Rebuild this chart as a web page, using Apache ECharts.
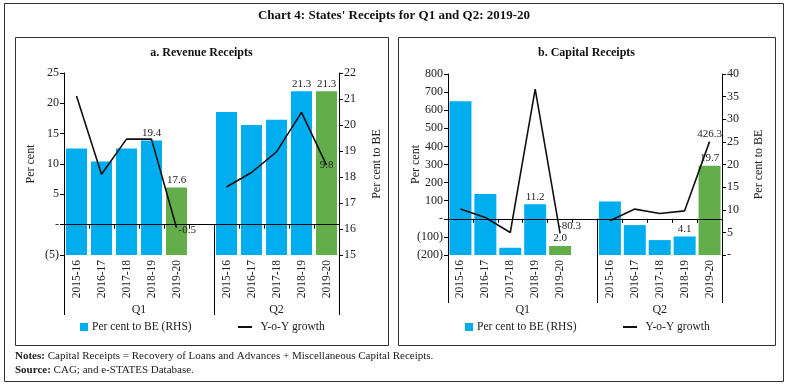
<!DOCTYPE html>
<html><head><meta charset="utf-8">
<script src="https://cdn.jsdelivr.net/npm/echarts@6/dist/echarts.min.js"></script>
<style>html,body{margin:0;padding:0;background:#fff}#c{width:790px;height:388px}</style>
</head><body><div id="c"></div>
<script>
// ---- data ----
const categories = ['2015-16','2016-17','2017-18','2018-19','2019-20','','2015-16','2016-17','2017-18','2018-19','2019-20'];
const groupLabels = ['Q1','Q2'];
const revBE     = [19.1, 18.6, 19.1, 19.4, 17.6, null, 20.5, 20.0, 20.2, 21.3, 21.3];
const revGrowth = [21.2, 8.3, 14.1, 14.1, -0.5, null, 6.2, 8.6, 12.0, 18.5, 9.8];
const capBE     = [34.0, 13.5, 1.6, 11.2, 2.0, null, 11.8, 6.6, 3.3, 4.1, 19.7];
const capGrowth = [53.6, 7, -75.7, 716.6, -80.3, null, -11, 53.6, 29, 44, 426.3];
const barLabelIdx = [3, 4, 9, 10];
const lineLabelIdx = [4, 10];
const currentIdx = [4, 10];

const FONT = 'Liberation Serif';
const BLUE = '#00AEEF';
const GREEN = '#63AE4A';
const fmt = v => v === 0 ? '-' : (v < 0 ? '(' + (-v) + ')' : String(v));

const G = [
  {left: 64, top: 73, width: 275, height: 182, lineEnd: 315, box: [15, 37, 373, 308], title: 'a. Revenue Receipts',
   lMin: -5, lMax: 25, lInt: 5, rMin: 15, rMax: 22, rInt: 1, be: revBE, gr: revGrowth, barW: 21,
   lGap: 27, rGap: 32,
   lineLabelPos: [{position: 'right', distance: 2, offset: [0, 2]}, {position: 'inside', offset: [0, 0]}],
   legendX: [80, 238]},
  {left: 448, top: 74, width: 274, height: 181, lineEnd: 303, box: [398, 37, 377, 308], title: 'b. Capital Receipts',
   lMin: -200, lMax: 800, lInt: 100, rMin: 0, rMax: 40, rInt: 5, be: capBE, gr: capGrowth, barW: 22,
   lGap: 26, rGap: 31,
   lineLabelPos: [{position: 'right', distance: 0, offset: [-2, -7]}, {position: 'top', distance: 2}],
   legendX: [465, 623]}
];

const option = {
  animation: false,
  backgroundColor: '#fff',
  textStyle: {fontFamily: FONT},
  grid: [], xAxis: [], yAxis: [], series: [], legend: [], graphic: []
};

G.forEach((g, k) => {
  option.grid.push({left: g.left, top: g.top, width: g.width, height: g.height, containLabel: false});
  // zero-line axis
  option.xAxis.push({type: 'category', gridIndex: k, data: categories, boundaryGap: true,
    axisLine: {show: true, onZero: true, onZeroAxisIndex: 2 * k, lineStyle: {color: '#000', width: 1}},
    axisTick: {show: true, length: 4, lineStyle: {color: '#000'}, interval: 0},
    axisLabel: {show: false}, splitLine: {show: false}, z: 10});
  // label axis at bottom
  option.xAxis.push({type: 'category', gridIndex: k, data: categories, position: 'bottom', boundaryGap: true,
    axisLine: {show: false, onZero: false}, axisTick: {show: false},
    axisLabel: {show: true, rotate: 90, interval: 0, margin: 5, fontSize: 11.5, fontFamily: FONT, color: '#222'},
    splitLine: {show: false}});
  option.yAxis.push({type: 'value', gridIndex: k, position: 'left', min: g.lMin, max: g.lMax, interval: g.lInt,
    name: 'Per cent', nameLocation: 'middle', nameGap: g.lGap, nameMoveOverlap: false,
    nameTextStyle: {fontSize: 12, fontFamily: FONT, color: '#222'},
    axisLine: {show: true, lineStyle: {color: '#000'}}, axisTick: {show: true, length: 4, lineStyle: {color: '#000'}},
    axisLabel: {formatter: fmt, fontSize: 12, fontFamily: FONT, color: '#222', margin: 5}, splitLine: {show: false}});
  option.yAxis.push({type: 'value', gridIndex: k, position: 'right', min: g.rMin, max: g.rMax, interval: g.rInt,
    name: 'Per cent to BE', nameLocation: 'middle', nameGap: g.rGap, nameRotate: 90, nameMoveOverlap: false,
    nameTextStyle: {fontSize: 12, fontFamily: FONT, color: '#222'},
    axisLine: {show: true, lineStyle: {color: '#000'}}, axisTick: {show: true, length: 4, lineStyle: {color: '#000'}},
    axisLabel: {formatter: fmt, fontSize: 12, fontFamily: FONT, color: '#222', margin: 5}, splitLine: {show: false}});

  const barName = 'Per cent to BE (RHS)' + (k ? ' ' : '');
  const lineName = 'Y-o-Y growth' + (k ? ' ' : '');
  option.series.push({
    name: barName, type: 'bar', xAxisIndex: 2 * k, yAxisIndex: 2 * k + 1, barWidth: g.barW, clip: true,
    itemStyle: {color: BLUE},
    label: {show: false, position: 'top', distance: 2, fontSize: 11, fontFamily: FONT, color: '#222',
      formatter: p => p.value.toFixed(1)},
    data: g.be.map((v, i) => ({value: v,
      itemStyle: currentIdx.includes(i) ? {color: GREEN} : undefined,
      label: barLabelIdx.includes(i) ? {show: true} : undefined}))
  });
  option.series.push({
    name: lineName, type: 'line', xAxisIndex: 2 * k, yAxisIndex: 2 * k, z: 5,
    symbol: 'circle', symbolSize: 0, showSymbol: true, connectNulls: false,
    lineStyle: {color: '#111', width: 1.6}, itemStyle: {color: '#111'},
    label: {show: false, fontSize: 11, fontFamily: FONT, color: '#222', formatter: p => p.value.toFixed(1)},
    data: g.gr.map((v, i) => {
      const j = lineLabelIdx.indexOf(i);
      return {value: v, label: j >= 0 ? Object.assign({show: true}, g.lineLabelPos[j]) : undefined};
    })
  });
  option.legend.push({left: g.legendX[0], top: 321, padding: 0, data: [{name: barName, icon: 'rect'}],
    itemWidth: 8, itemHeight: 8, itemGap: 4, textStyle: {fontSize: 11.5, fontFamily: FONT, color: '#222', padding: [0, 0, 0, -1]}, selectedMode: false});
  option.legend.push({left: g.legendX[1], top: 321, padding: 0, data: [{name: lineName, icon: 'path://M0,0H14V2H0Z'}],
    itemWidth: 15, itemHeight: 2, itemGap: 4, textStyle: {fontSize: 11.5, fontFamily: FONT, color: '#222', padding: [0, 0, 0, 3]}, selectedMode: false});

  // panel box and title
  option.graphic.push({type: 'rect', shape: {x: g.box[0] + 0.5, y: g.box[1] + 0.5, width: g.box[2], height: g.box[3]},
    style: {fill: null, stroke: '#333', lineWidth: 1}, silent: true});
  option.graphic.push({type: 'text', x: g.box[0] + g.box[2] / 2, y: 53,
    style: {text: g.title, font: 'bold 12px "' + FONT + '"', fill: '#111', align: 'center', verticalAlign: 'middle'}});
  // multi-level category lines
  const bottom = g.top + g.height;
  const sepX = g.left + g.width * 6 / 11;
  const zeroY = g.top + g.height * (g.lMax - 0) / (g.lMax - g.lMin);
  [[g.left, bottom], [g.left + g.width, bottom], [sepX, zeroY]].forEach(([x, y0]) => {
    option.graphic.push({type: 'line', shape: {x1: Math.round(x) + 0.5, y1: y0, x2: Math.round(x) + 0.5, y2: g.lineEnd},
      style: {stroke: '#000', lineWidth: 1}, silent: true});
  });
  option.graphic.push({type: 'text', x: (g.left + sepX) / 2, y: 310,
    style: {text: groupLabels[0], font: '12px "' + FONT + '"', fill: '#222', align: 'center', verticalAlign: 'middle'}});
  option.graphic.push({type: 'text', x: (sepX + g.left + g.width) / 2, y: 310,
    style: {text: groupLabels[1], font: '12px "' + FONT + '"', fill: '#222', align: 'center', verticalAlign: 'middle'}});
});

// outer frame, main title, notes
option.graphic.push({type: 'rect', shape: {x: 4.5, y: 3.5, width: 779, height: 378},
  style: {fill: null, stroke: '#333', lineWidth: 1}, silent: true});
option.graphic.push({type: 'text', x: 394, y: 16,
  style: {text: "Chart 4: States' Receipts for Q1 and Q2: 2019-20", font: 'bold 13px "' + FONT + '"', fill: '#111', align: 'center', verticalAlign: 'middle'}});
option.graphic.push({type: 'text', x: 15, y: 356,
  style: {text: '{b|Notes:} Capital Receipts = Recovery of Loans and Advances + Miscellaneous Capital Receipts.',
    font: '11px "' + FONT + '"', fill: '#222', verticalAlign: 'middle',
    rich: {b: {fontWeight: 'bold', fontFamily: FONT, fontSize: 11, fill: '#222'}}}});
option.graphic.push({type: 'text', x: 15, y: 370,
  style: {text: '{b|Source:} CAG; and e-STATES Database.',
    font: '11px "' + FONT + '"', fill: '#222', verticalAlign: 'middle',
    rich: {b: {fontWeight: 'bold', fontFamily: FONT, fontSize: 11, fill: '#222'}}}});

const chart = echarts.init(document.getElementById('c'), null, {renderer: 'canvas'});
chart.setOption(option);
</script></body></html>
